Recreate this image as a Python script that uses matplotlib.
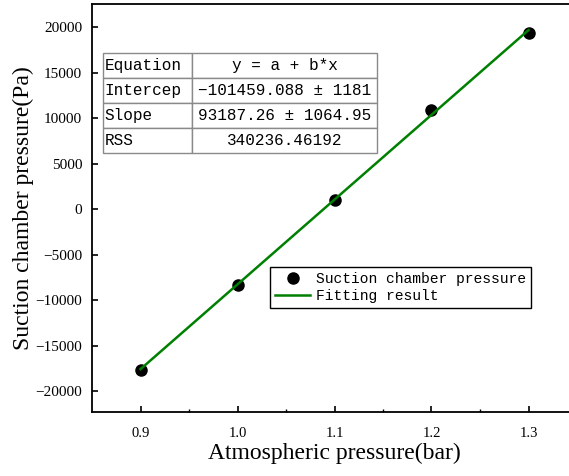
import matplotlib.pyplot as plt
import numpy as np

plt.rcParams['font.family'] = ['Liberation Serif', 'DejaVu Serif']
plt.rcParams['mathtext.fontset'] = 'stix'

# data
atm_pressure = [0.9, 1.0, 1.1, 1.2, 1.3]
suction_pressure = [-17650, -8300, 980, 10850, 19360]

intercept = -101459.088
slope = 93187.26

table_rows = [
    ["Equation", "y = a + b*x"],
    ["Intercep", "\u2212101459.088 \u00b1 1181"],
    ["Slope", "93187.26 \u00b1 1064.95"],
    ["RSS", "340236.46192"],
]

xticks = [0.9, 1.0, 1.1, 1.2, 1.3]
yticks = np.arange(-20000, 20001, 5000)

mono = 'Liberation Mono'
lw = 1.3

# %%
fig = plt.figure(figsize=(5.69, 4.76), dpi=100)
ax = fig.add_axes([92 / 569, 64 / 476, 485 / 569, 408 / 476])

x_fit = np.array([atm_pressure[0], atm_pressure[-1]])
ax.plot(atm_pressure, suction_pressure, 'o', color='k', markersize=8,
        label='Suction chamber pressure', zorder=3)
ax.plot(x_fit, intercept + slope * x_fit, color='#008000', lw=1.8,
        label='Fitting result', zorder=4)

ax.set_xlim(0.85, 1.35)
ax.set_ylim(-22300, 22550)
ax.set_xticks(xticks)
ax.set_xticklabels([f"{t:.1f}" for t in xticks])
ax.set_xticks(np.arange(0.95, 1.31, 0.1), minor=True)
ax.set_yticks(yticks)
ax.set_yticklabels([f"{t}".replace('-', '\u2212') for t in yticks])

# Make-ups
for side in ['left', 'bottom', 'top']:
    ax.spines[side].set_linewidth(lw)
ax.spines['right'].set_visible(False)
ax.tick_params(axis='both', which='major', direction='in', length=4.5, width=1.2,
               labelsize=11, pad=7, color='k')
ax.tick_params(axis='x', which='minor', direction='in', length=2.5, width=1.0)
ax.tick_params(axis='x', which='major', pad=11, labelsize=10.5)

ax.set_xlabel("Atmospheric pressure(bar)", fontsize=17, labelpad=2)
ax.set_ylabel("Suction chamber pressure(Pa)", fontsize=17, labelpad=1)

# fit table
tab = ax.table(cellText=table_rows, colWidths=[0.325, 0.675],
               bbox=[11 / 485, (412 - 153) / 408, 274 / 485, 100 / 408])
tab.auto_set_font_size(False)
for (r, c), cell in tab.get_celld().items():
    cell.set_edgecolor('#8a8a8a')
    cell.set_linewidth(1.0)
    cell.get_text().set_fontfamily(mono)
    cell.get_text().set_fontsize(11.5)
    if c == 0:
        cell.get_text().set_ha('left')
        cell.PAD = 0.015
    else:
        cell.get_text().set_ha('center')
        cell._loc = 'center'

leg = ax.legend(loc='upper left', bbox_to_anchor=((270 - 92) / 485, (412 - 267) / 408),
                prop={'family': mono, 'size': 10.5}, frameon=True, fancybox=False,
                edgecolor='k', framealpha=1, borderpad=0.35, handlelength=2.4,
                handletextpad=0.4, labelspacing=0.2, borderaxespad=0)
leg.get_frame().set_linewidth(1.0)

plt.savefig('out.png', dpi=100)
